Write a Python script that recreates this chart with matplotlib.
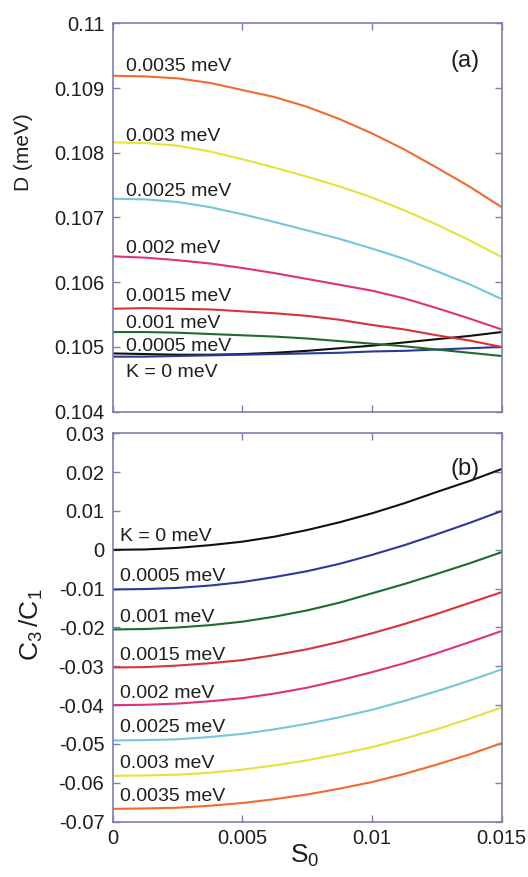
import numpy as np
import matplotlib
matplotlib.use("Agg")
import matplotlib.pyplot as plt

plt.rcParams["font.family"] = ["Liberation Sans", "DejaVu Sans"]
plt.rcParams["mathtext.fontset"] = "custom"
plt.rcParams["mathtext.rm"] = "Liberation Sans"

# S0 sample points
S0 = [0.0, 0.00125, 0.0025, 0.00375, 0.005, 0.00625, 0.0075,
      0.00875, 0.01, 0.01125, 0.0125, 0.01375, 0.015]

K_LABELS = ["K = 0 meV", "0.0005 meV", "0.001 meV", "0.0015 meV",
            "0.002 meV", "0.0025 meV", "0.003 meV", "0.0035 meV"]
COLORS = ["#111111", "#2b3a96", "#1f6b2d", "#d8323a",
          "#e0317e", "#74c6dc", "#e2e43a", "#f26b2e"]

# panel (a): D (meV), one list per K
D_K0 = [0.10490, 0.10489, 0.10488, 0.10488, 0.10489, 0.10491, 0.10494,
        0.10498, 0.10502, 0.10507, 0.10512, 0.10517, 0.10523]
D_K0005 = [0.10485, 0.10485, 0.10486, 0.10487, 0.10488, 0.10489, 0.10490,
           0.10491, 0.10493, 0.10494, 0.10496, 0.10498, 0.10500]
D_K001 = [0.10523, 0.10523, 0.10522, 0.10520, 0.10518, 0.10516, 0.10513,
          0.10509, 0.10505, 0.10501, 0.10496, 0.10491, 0.10486]
D_K0015 = [0.10559, 0.10560, 0.10559, 0.10558, 0.10555, 0.10552, 0.10548,
           0.10542, 0.10534, 0.10527, 0.10518, 0.10510, 0.10500]
D_K002 = [0.10640, 0.10638, 0.10634, 0.10629, 0.10622, 0.10614, 0.10605,
          0.10596, 0.10587, 0.10575, 0.10560, 0.10544, 0.10527]
D_K0025 = [0.10729, 0.10728, 0.10724, 0.10716, 0.10705, 0.10693, 0.10680,
           0.10667, 0.10652, 0.10636, 0.10617, 0.10597, 0.10574]
D_K003 = [0.10816, 0.10815, 0.10811, 0.10802, 0.10790, 0.10777, 0.10763,
          0.10748, 0.10731, 0.10711, 0.10689, 0.10665, 0.10639]
D_K0035 = [0.10919, 0.10918, 0.10915, 0.10908, 0.10897, 0.10886, 0.10871,
           0.10852, 0.10830, 0.10805, 0.10777, 0.10748, 0.10716]
D_ALL = [D_K0, D_K0005, D_K001, D_K0015, D_K002, D_K0025, D_K003, D_K0035]

# panel (b): C3/C1
C_K0 = [0.0000, 0.0001, 0.0005, 0.0012, 0.0021, 0.0034, 0.0051,
        0.0071, 0.0094, 0.0120, 0.0149, 0.0177, 0.0208]
C_K0005 = [-0.0102, -0.0101, -0.0098, -0.0092, -0.0083, -0.0070, -0.0055,
           -0.0036, -0.0013, 0.0012, 0.0040, 0.0069, 0.0100]
C_K001 = [-0.0205, -0.0204, -0.0200, -0.0194, -0.0185, -0.0172, -0.0156,
          -0.0136, -0.0112, -0.0088, -0.0062, -0.0035, -0.0006]
C_K0015 = [-0.0303, -0.0302, -0.0298, -0.0292, -0.0284, -0.0271, -0.0256,
           -0.0237, -0.0215, -0.0191, -0.0165, -0.0137, -0.0109]
C_K002 = [-0.0400, -0.0399, -0.0396, -0.0390, -0.0382, -0.0370, -0.0355,
          -0.0336, -0.0315, -0.0292, -0.0266, -0.0238, -0.0209]
C_K0025 = [-0.0491, -0.0490, -0.0488, -0.0482, -0.0474, -0.0462, -0.0448,
           -0.0431, -0.0412, -0.0389, -0.0364, -0.0337, -0.0308]
C_K003 = [-0.0582, -0.0581, -0.0579, -0.0574, -0.0566, -0.0555, -0.0542,
          -0.0526, -0.0508, -0.0486, -0.0462, -0.0435, -0.0406]
C_K0035 = [-0.0667, -0.0666, -0.0664, -0.0659, -0.0652, -0.0642, -0.0630,
           -0.0615, -0.0598, -0.0577, -0.0553, -0.0527, -0.0498]
C_ALL = [C_K0, C_K0005, C_K001, C_K0015, C_K002, C_K0025, C_K003, C_K0035]

# label baselines (data units)
LAB_A_Y = [0.10453, 0.10493, 0.10529, 0.10571, 0.10645, 0.10733, 0.10818, 0.10926]
LAB_B_Y = [0.00215, -0.00815, -0.01863, -0.02831, -0.0382, -0.04703, -0.05622, -0.06462]

X_TICKS = [0, 0.005, 0.01, 0.015]
X_TICKLABELS = ["0", "0.005", "0.01", "0.015"]
A_TICKS = [0.104, 0.105, 0.106, 0.107, 0.108, 0.109, 0.11]
A_TICKLABELS = ["0.104", "0.105", "0.106", "0.107", "0.108", "0.109", "0.11"]
B_TICKS = [0.03, 0.02, 0.01, 0, -0.01, -0.02, -0.03, -0.04, -0.05, -0.06, -0.07]
B_TICKLABELS = ["0.03", "0.02", "0.01", "0", "-0.01", "-0.02", "-0.03",
                "-0.04", "-0.05", "-0.06", "-0.07"]

SPINE = "#7b7fb0"
TXT = "#1e1e1e"

fig = plt.figure(figsize=(5.28, 8.77), dpi=100)
ax_a = fig.add_axes([0.2134, 0.5306, 0.7367, 0.4428])
ax_b = fig.add_axes([0.2134, 0.0631, 0.7367, 0.4428])


def style(ax):
    for sp in ax.spines.values():
        sp.set_color(SPINE)
        sp.set_linewidth(1.2)
    ax.tick_params(direction="in", top=True, right=True, length=5, width=1,
                   color=SPINE, labelcolor=TXT, labelsize=14.5, pad=6)
    ax.set_xlim(0, 0.015)
    ax.set_xticks(X_TICKS)


for ys, c in zip(D_ALL, COLORS):
    ax_a.plot(S0, ys, color=c, lw=1.5)
for lab, y in zip(K_LABELS, LAB_A_Y):
    ax_a.text(0.00051, y, lab, fontsize=14, color=TXT, va="baseline")
ax_a.text(0.01358, 0.10942, "(a)", fontsize=17, color=TXT, ha="center", va="center")
style(ax_a)
ax_a.set_ylim(0.104, 0.11)
ax_a.set_yticks(A_TICKS)
ax_a.set_yticklabels(A_TICKLABELS)
ax_a.set_xticklabels([])

for ys, c in zip(C_ALL, COLORS):
    ax_b.plot(S0, ys, color=c, lw=1.5)
for lab, y in zip(K_LABELS, LAB_B_Y):
    ax_b.text(0.00028, y, lab, fontsize=14, color=TXT, va="baseline")
ax_b.text(0.01358, 0.0208, "(b)", fontsize=17, color=TXT, ha="center", va="center")
style(ax_b)
ax_b.set_ylim(-0.07, 0.03)
ax_b.set_yticks(B_TICKS)
ax_b.set_yticklabels(B_TICKLABELS)
ax_b.set_xticklabels(X_TICKLABELS)
ax_b.tick_params(axis="x", pad=5)

fig.text(0.0436, 0.8267, "D (meV)", rotation=90, fontsize=15, color=TXT,
         ha="center", va="center")
fig.text(0.060, 0.2873, r"$\mathregular{C_3\,/C_1}$", rotation=90, fontsize=19,
         color=TXT, ha="center", va="center")
fig.text(0.578, 0.016, r"$\mathregular{S_0}$", fontsize=19, color=TXT,
         ha="center", va="baseline")

fig.savefig("out.png", dpi=100)
